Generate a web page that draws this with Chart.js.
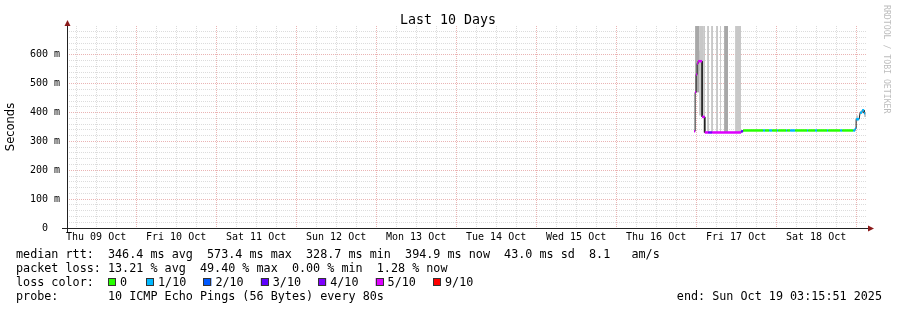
<!DOCTYPE html>
<html lang="en">
<head>
  <meta charset="UTF-8" />
  <title>Last 10 Days</title>
  <script src="https://cdn.jsdelivr.net/npm/chart.js"></script>
  <style>
    html, body { margin: 0; padding: 0; background: #fff; }
    canvas { display: block; }
  </style>
</head>
<body>
<canvas id="chart-ping" width="897" height="310"></canvas>

<script>
  // hours counted from Thu 09 Oct 00:00
  const startHour = 3.264;   // 03:15:51
  const endHour = 243.264;   // Sun 19 Oct 03:15:51

  const dayLabels = ['Thu 09 Oct', 'Fri 10 Oct', 'Sat 11 Oct', 'Sun 12 Oct', 'Mon 13 Oct',
                     'Tue 14 Oct', 'Wed 15 Oct', 'Thu 16 Oct', 'Fri 17 Oct', 'Sat 18 Oct'];
  const yTickValues = [0, 100, 200, 300, 400, 500, 600];
  const yTickLabels = ['0  ', '100 m', '200 m', '300 m', '400 m', '500 m', '600 m'];

  // median rtt (ms), one entry per flat run
  const medianStart = [191.4, 191.7, 192.0, 192.3, 192.6, 193.8, 194.6, 195.6, 196.8, 205.5,
                       206.1, 212.1, 212.7, 213.9, 214.8, 216.3, 216.6, 219.0, 219.3, 220.2,
                       221.7, 225.3, 225.6, 227.7, 228.3, 231.3, 231.6, 235.2, 235.8, 239.1,
                       239.7, 240.0, 241.2, 241.8, 242.4];
  const medianEnd   = [191.7, 192.0, 192.3, 192.6, 193.8, 194.6, 195.6, 196.8, 205.5, 206.1,
                       212.1, 212.7, 213.9, 214.8, 216.3, 216.6, 219.0, 219.3, 220.2, 221.7,
                       225.3, 225.6, 227.7, 228.3, 231.3, 231.6, 235.2, 235.8, 239.1, 239.7,
                       240.0, 240.9, 241.8, 242.4, 242.7];
  const medianValue = [335, 470, 532, 570, 578, 385, 331, 331, 331, 335,
                       338, 338, 338, 338, 338, 338, 338, 338, 338, 338,
                       338, 338, 338, 338, 338, 338, 338, 338, 338, 338,
                       345, 377, 400, 408, 398];
  // lost pings out of 10
  const medianLoss  = [5, 5, 5, 5, 5, 5, 5, 4, 5, 3,
                       0, 1, 0, 1, 0, 1, 0, 1, 0, 1,
                       0, 1, 0, 1, 0, 1, 0, 1, 0, 1,
                       1, 1, 1, 1, 1];

  // smoke: spread of the single pings (ms); density 1 = few pings, 3 = many
  const smokeStart   = [191.7, 192.9, 192.9, 194.1, 195.3, 196.5, 198.0, 199.2, 200.4, 203.7, 240.0, 242.4];
  const smokeEnd     = [192.9, 194.1, 193.8, 194.7, 195.9, 197.1, 198.6, 199.5, 201.6, 205.5, 240.6, 243.0];
  const smokeLow     = [470, 390, 545, 331, 331, 331, 331, 331, 331, 331, 370, 385];
  const smokeHigh    = [760, 760, 615, 760, 760, 760, 760, 760, 760, 760, 390, 400];
  const smokeDensity = [2, 1, 3, 1, 1, 1, 1, 1, 2, 1, 1, 1];

  const rttValues = [346.4, 573.4, 328.7, 394.9, 43.0];
  const rttNames = ['avg', 'max', 'min', 'now', 'sd'];
  const amPerSecond = 8.1;
  const lossValues = [13.21, 49.40, 0.00, 1.28];
  const lossNames = ['avg', 'max', 'min', 'now'];
  const lossSteps = [0, 1, 2, 3, 4, 5, 9];
  const lossLabels = ['0', '1/10', '2/10', '3/10', '4/10', '5/10', '9/10'];
  const lossColors = ['#26ff00', '#00b8ff', '#0059ff', '#5e00ff', '#7e00ff', '#dd00ff', '#ff0000'];

  const shade = { 1: '#c8c8c8', 2: '#a8a8a8', 3: '#7a7a7a' };
  const gridGrey = '#dcdcdc';
  const gridRed = '#eab4b4';
  const mono = '"DejaVu Sans Mono", monospace';

  function lossColor(n) {
    let c = lossColors[0];
    lossSteps.forEach((s, i) => { if (n >= s) c = lossColors[i]; });
    return c;
  }

  const medianPoints = [];
  medianStart.forEach((s, i) => {
    medianPoints.push({ x: s, y: medianValue[i] });
    medianPoints.push({ x: medianEnd[i], y: medianValue[i] });
  });

  const smokeSets = smokeStart.map((s, i) => ({
    data: [{ x: s, y: smokeHigh[i] }, { x: smokeEnd[i], y: smokeHigh[i] }],
    fill: { value: smokeLow[i] },
    backgroundColor: shade[smokeDensity[i]],
    borderColor: 'transparent',
    borderWidth: 0,
    pointRadius: 0,
    order: 2
  }));

  const xGrid = [];
  for (let h = 6; h <= 240; h += 6) xGrid.push(h);
  const yGrid = [];
  for (let v = 0; v <= 700; v += 20) yGrid.push(v);

  const rrdText = {
    id: 'rrdText',
    afterDraw(chart) {
      const c = chart.ctx;
      const a = chart.chartArea;
      c.save();

      // axes with arrows
      c.strokeStyle = '#222';
      c.lineWidth = 1;
      c.beginPath();
      c.moveTo(a.left + 0.5, a.bottom + 4);
      c.lineTo(a.left + 0.5, a.top - 4);
      c.moveTo(a.left - 5, a.bottom + 0.5);
      c.lineTo(a.right + 3, a.bottom + 0.5);
      c.stroke();
      c.fillStyle = '#8b1a1a';
      c.beginPath();
      c.moveTo(a.left + 0.5, a.top - 6);
      c.lineTo(a.left - 2.5, a.top);
      c.lineTo(a.left + 3.5, a.top);
      c.closePath();
      c.fill();
      c.beginPath();
      c.moveTo(a.right + 7, a.bottom + 0.5);
      c.lineTo(a.right + 1, a.bottom - 2.5);
      c.lineTo(a.right + 1, a.bottom + 3.5);
      c.closePath();
      c.fill();

      // title
      c.fillStyle = '#000';
      c.font = '13.3px ' + mono;
      c.textAlign = 'center';
      c.textBaseline = 'alphabetic';
      c.fillText('Last 10 Days', 448, 24);

      // legend lines
      c.font = '11.75px ' + mono;
      c.textAlign = 'left';
      const rtt = rttValues.map((v, i) => v.toFixed(1) + ' ms ' + rttNames[i]).join('  ');
      c.fillText('median rtt:  ' + rtt + '  ' + amPerSecond.toFixed(1) + '   am/s', 16, 258);
      const loss = lossValues.map((v, i) => v.toFixed(2) + ' % ' + lossNames[i]).join('  ');
      c.fillText('packet loss: ' + loss, 16, 272);
      c.fillText('loss color:', 16, 286);
      lossLabels.forEach((lab, i) => {
        const x = i === 0 ? 108 : 146 + (i - 1) * 57.4;
        c.fillStyle = lossColors[i];
        c.fillRect(x, 278, 8, 8);
        c.strokeStyle = '#333';
        c.strokeRect(Math.round(x) + 0.5, 278.5, 7, 7);
        c.fillStyle = '#000';
        c.fillText(lab, x + 12, 286);
      });
      c.fillText('probe:       10 ICMP Echo Pings (56 Bytes) every 80s', 16, 300);
      c.textAlign = 'right';
      c.fillText('end: Sun Oct 19 03:15:51 2025', 882, 300);

      // watermark
      c.translate(886, 5);
      c.rotate(Math.PI / 2);
      c.textAlign = 'left';
      c.textBaseline = 'middle';
      c.fillStyle = '#bdbdbd';
      c.font = '8.2px ' + mono;
      c.fillText('RRDTOOL / TOBI OETIKER', 0, 0);
      c.restore();
    }
  };

  const ctx = document.getElementById('chart-ping').getContext('2d');
  new Chart(ctx, {
    type: 'line',
    data: {
      datasets: [
        {
          data: medianPoints,
          borderWidth: 2.5,
          pointRadius: 0,
          order: 0,
          segment: {
            borderColor: s => (s.p0DataIndex % 2 === 0
              ? lossColor(medianLoss[s.p0DataIndex / 2]) : 'transparent')
          }
        },
        {
          data: medianPoints,
          borderColor: '#202020',
          borderWidth: 1,
          pointRadius: 0,
          order: 1
        },
        ...smokeSets
      ]
    },
    options: {
      responsive: false,
      animation: false,
      events: [],
      layout: { padding: { left: 0, right: 30, top: 26, bottom: 0 } },
      scales: {
        x: {
          type: 'linear',
          min: startHour,
          max: endHour,
          afterBuildTicks: s => { s.ticks = xGrid.map(v => ({ value: v })); },
          afterFit: s => { s.height = 82; },
          ticks: {
            autoSkip: false,
            maxRotation: 0,
            padding: 3,
            color: '#000',
            font: { family: mono, size: 10 },
            callback: v => (v % 24 === 12 ? dayLabels[(v - 12) / 24] : '')
          },
          grid: {
            drawTicks: false,
            color: c => (c.tick && c.tick.value % 24 === 0 ? gridRed : gridGrey)
          },
          border: { display: false, dash: [1, 1] }
        },
        y: {
          min: 0,
          max: 700,
          afterBuildTicks: s => { s.ticks = yGrid.map(v => ({ value: v })); },
          afterFit: s => { s.width = 67; },
          ticks: {
            autoSkip: false,
            padding: 7,
            color: '#000',
            font: { family: mono, size: 10 },
            callback: v => {
              const i = yTickValues.indexOf(v);
              return i < 0 ? '' : yTickLabels[i];
            }
          },
          grid: {
            drawTicks: false,
            color: c => {
              if (!c.tick || c.tick.value === 0 || c.tick.value === 700) return 'transparent';
              return c.tick.value % 100 === 0 ? gridRed : gridGrey;
            }
          },
          border: { display: false, dash: [1, 1] },
          title: {
            display: true,
            text: 'Seconds',
            color: '#000',
            font: { family: '"DejaVu Sans", sans-serif', size: 11.5 },
            padding: { top: 4, bottom: 0 }
          }
        }
      },
      plugins: {
        legend: { display: false },
        tooltip: { enabled: false },
        title: { display: false }
      }
    },
    plugins: [rrdText]
  });
</script>
</body>
</html>
